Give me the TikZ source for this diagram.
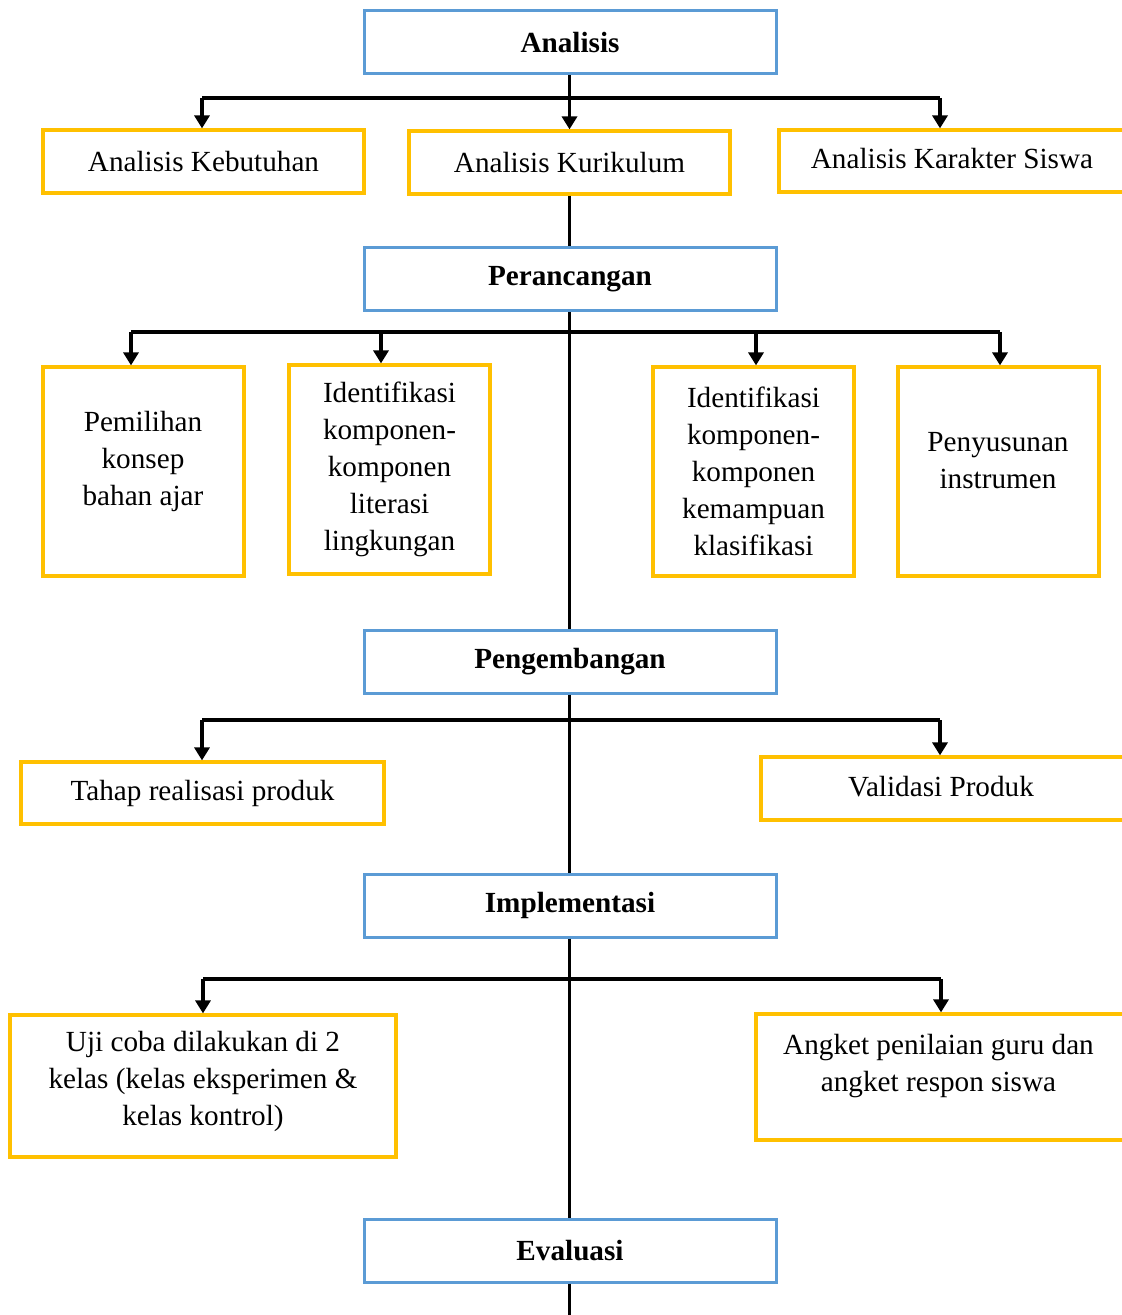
\documentclass[tikz,border=0pt]{standalone}
\usepackage{fontspec}
\setmainfont{Liberation Serif}
\usetikzlibrary{arrows.meta}
\definecolor{phaseblue}{HTML}{5B9BD5}
\definecolor{itemgold}{HTML}{FFC000}
\newcommand{\boxfont}{\fontsize{14.6}{18.5}\selectfont}
\tikzset{
  phase/.style={draw=phaseblue, line width=1.5pt, minimum width=206pt, minimum height=31.5pt, inner sep=0pt, font=\boxfont\bfseries},
  item/.style={draw=itemgold, line width=1.6pt, inner sep=0pt},
  txt/.style={align=center, inner sep=0pt, font=\boxfont},
  ln/.style={line width=1.65pt},
  arr/.style={line width=1.65pt, -{Triangle[length=6.5pt,width=7.5pt]}},
}
\begin{document}
\begin{tikzpicture}[x=0.5pt, y=-0.5pt]
    \useasboundingbox (0,0) rectangle (1121,1315);

    % Phases
    \node[phase] (analisis) at (570,42.5) {Analisis};
    \node[phase] (perancangan) at (570,279.5) {Perancangan};
    \node[phase] (pengembangan) at (570,661.5) {Pengembangan};
    \node[phase] (implementasi) at (570,905.5) {Implementasi};
    \node[phase] (evaluasi) at (570,1250.5) {Evaluasi};

    % Analisis
    \node[item, txt, minimum width=160.5pt, minimum height=31.5pt] (kebutuhan) at (203.5,161.5) {Analisis Kebutuhan};
    \node[item, txt, minimum width=160.5pt, minimum height=31.5pt] (kurikulum) at (569.5,162.5) {Analisis Kurikulum};
    \node[item, minimum width=175.5pt, minimum height=31pt] (karakter) at (954.5,161) {};
    \node[txt] (karakter-txt) at (952,159) {Analisis Karakter Siswa};

    \coordinate (a1) at (202,98);
    \coordinate (a3) at (940,98);
    \draw[ln] (a1) -- (a3);
    \draw[arr] (a1) -- (a1 |- kebutuhan.north);
    \draw[arr] (analisis.south -| kurikulum) -- (kurikulum.north);
    \draw[arr] (a3) -- (a3 |- karakter.north);

    % Perancangan
    \draw[ln] (kurikulum.south) -- (kurikulum.south |- perancangan.north);
    \node[item, minimum width=100.5pt, minimum height=104.5pt] (pemilihan) at (143.5,471.5) {};
    \node[txt] (pemilihan-txt) at (143,461) {Pemilihan\\konsep\\bahan ajar};
    \node[item, txt, minimum width=100.5pt, minimum height=104.5pt] (literasi) at (389.5,469.5) {Identifikasi\\komponen-\\komponen\\literasi\\lingkungan};
    \node[item, txt, minimum width=100.5pt, minimum height=104.5pt] (klasifikasi) at (753.5,471.5) {Identifikasi\\komponen-\\komponen\\kemampuan\\klasifikasi};
    \node[item, minimum width=100.5pt, minimum height=104.5pt] (penyusunan) at (998.5,471.5) {};
    \node[txt] (penyusunan-txt) at (998,460.5) {Penyusunan\\instrumen};

    \coordinate (b1) at (131,332);
    \coordinate (b2) at (381,332);
    \coordinate (b3) at (756,332);
    \coordinate (b4) at (1000,332);
    \draw[ln] (b1) -- (b4);
    \draw[arr] (b1) -- (b1 |- pemilihan.north);
    \draw[arr] (b2) -- (b2 |- literasi.north);
    \draw[arr] (b3) -- (b3 |- klasifikasi.north);
    \draw[arr] (b4) -- (b4 |- penyusunan.north);

    % Pengembangan
    \draw[ln] (perancangan.south -| kurikulum) -- (pengembangan.north -| kurikulum);
    \node[item, txt, minimum width=181.5pt, minimum height=31pt] (tahap) at (202.5,793) {Tahap realisasi produk};
    \node[item, minimum width=184.5pt, minimum height=31.5pt] (validasi) at (945.5,788.5) {};
    \node[txt] (validasi-txt) at (941,787) {Validasi Produk};

    \coordinate (c1) at (202,720);
    \coordinate (c2) at (940,720);
    \draw[ln] (c1) -- (c2);
    \draw[arr] (c1) -- (c1 |- tahap.north);
    \draw[arr] (c2) -- (c2 |- validasi.north);

    % Implementasi
    \draw[ln] (pengembangan.south -| kurikulum) -- (implementasi.north -| kurikulum);
    \node[item, minimum width=193pt, minimum height=71pt] (uji) at (203,1086) {};
    \node[txt] (uji-txt) at (203,1081) {Uji coba dilakukan di 2\\kelas (kelas eksperimen \&\\kelas kontrol)};
    \node[item, minimum width=187pt, minimum height=63pt] (angket) at (943,1077) {};
    \node[txt] (angket-txt) at (938.5,1066) {Angket penilaian guru dan\\angket respon siswa};

    \coordinate (d1) at (203,979);
    \coordinate (d2) at (941,979);
    \draw[ln] (d1) -- (d2);
    \draw[arr] (d1) -- (d1 |- uji.north);
    \draw[arr] (d2) -- (d2 |- angket.north);

    % Evaluasi
    \draw[ln] (implementasi.south -| kurikulum) -- (evaluasi.north -| kurikulum);
    \coordinate (ujung) at (569.5,1315);
    \draw[ln] (evaluasi.south -| kurikulum) -- (ujung);
\end{tikzpicture}
\end{document}
